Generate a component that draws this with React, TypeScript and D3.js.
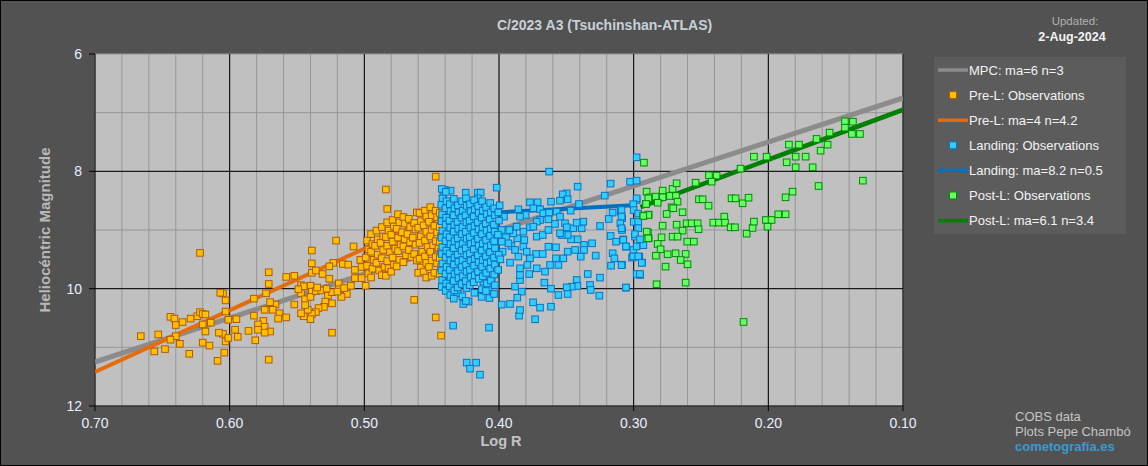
import React from "react";
import * as d3 from "d3";

const W = 1148;
const H = 466;
const M = { left: 95, right: 903, top: 54, bottom: 406 };

const xTickValues = [0.7, 0.6, 0.5, 0.4, 0.3, 0.2, 0.1];
const yTickValues = [6, 8, 10, 12];

const title = "C/2023 A3 (Tsuchinshan-ATLAS)";

// model lines [logR, magnitude]
const mpcLine: [number, number][] = [[0.70, 11.25], [0.10, 6.75]];
const preLine: [number, number][] = [[0.70, 11.42], [0.445, 8.74]];
const landLine: [number, number][] = [[0.443, 8.75], [0.300, 8.58]];
const postLine: [number, number][] = [[0.295, 8.61], [0.10, 6.95]];

// Pre-L observations: sparse part
const preSparse: [number, number][] = [
  [0.622, 9.39], [0.666, 10.81], [0.653, 10.78], [0.656, 11.07], [0.648, 11.03], [0.644, 10.48], [0.641, 10.51],
  [0.640, 10.62], [0.635, 10.57], [0.629, 10.51], [0.624, 10.47], [0.622, 10.40], [0.620, 10.43], [0.618, 10.44],
  [0.620, 10.61], [0.614, 10.58], [0.618, 10.73], [0.640, 10.81], [0.644, 10.87], [0.637, 10.94], [0.630, 11.11],
  [0.620, 10.92], [0.615, 10.97], [0.609, 11.23], [0.604, 11.09], [0.603, 10.90], [0.605, 10.77], [0.608, 10.75],
  [0.601, 10.84], [0.594, 10.82], [0.596, 10.70], [0.595, 10.52], [0.601, 10.53], [0.603, 10.39], [0.603, 10.20],
  [0.605, 10.08], [0.607, 10.07], [0.582, 10.17], [0.573, 10.08], [0.571, 9.72], [0.571, 9.92], [0.558, 9.80],
  [0.552, 9.78], [0.539, 9.35], [0.521, 9.18], [0.539, 9.57], [0.523, 9.56], [0.516, 9.58], [0.512, 9.59],
  [0.539, 9.73], [0.536, 9.69], [0.531, 9.75], [0.526, 9.62], [0.526, 9.83], [0.519, 9.91], [0.519, 10.01],
  [0.513, 10.09], [0.517, 10.14], [0.547, 9.94], [0.540, 9.95], [0.539, 10.05], [0.547, 10.08], [0.544, 10.18],
  [0.540, 10.14], [0.536, 10.04], [0.532, 10.03], [0.527, 10.12], [0.524, 10.06], [0.524, 10.25], [0.529, 10.22],
  [0.530, 10.31], [0.534, 10.33], [0.536, 10.40], [0.539, 10.43], [0.540, 10.52], [0.545, 10.47], [0.547, 10.42],
  [0.542, 10.36], [0.552, 10.27], [0.544, 10.28], [0.566, 10.27], [0.570, 10.23], [0.574, 10.36], [0.568, 10.36],
  [0.563, 10.42], [0.564, 10.51], [0.558, 10.49], [0.575, 10.55], [0.574, 10.65], [0.579, 10.61], [0.579, 10.70],
  [0.586, 10.72], [0.582, 10.46], [0.581, 10.88], [0.570, 10.73], [0.574, 10.75], [0.571, 11.21], [0.524, 10.75],
  [0.508, 9.28], [0.507, 9.68], [0.545, 9.96], [0.549, 10.01], [0.535, 9.98], [0.528, 10.00], [0.520, 10.05],
  [0.515, 9.99], [0.510, 9.95], [0.503, 9.51], [0.502, 9.63], [0.496, 9.51], [0.499, 9.95], [0.507, 9.82],
  [0.502, 9.82], [0.447, 8.09], [0.484, 8.31], [0.483, 8.64], [0.461, 8.70], [0.450, 8.80], [0.463, 10.19],
  [0.447, 10.49], [0.443, 10.80],
];

// Pre-L observations: dense part
const preDense: [number, number][] = [
  [0.498, 9.18], [0.497, 9.33], [0.499, 9.47], [0.498, 9.61], [0.497, 9.74],
  [0.495, 9.07], [0.494, 9.24], [0.495, 9.37], [0.493, 9.51], [0.494, 9.66], [0.495, 9.81],
  [0.491, 9.01], [0.490, 9.16], [0.492, 9.27], [0.490, 9.42], [0.491, 9.56], [0.489, 9.69],
  [0.487, 8.95], [0.486, 9.11], [0.488, 9.22], [0.486, 9.34], [0.487, 9.48], [0.485, 9.63], [0.487, 9.77],
  [0.483, 8.87], [0.482, 9.01], [0.484, 9.12], [0.483, 9.27], [0.481, 9.38], [0.483, 9.53], [0.482, 9.65], [0.484, 9.78],
  [0.479, 8.83], [0.478, 8.94], [0.480, 9.08], [0.479, 9.20], [0.477, 9.32], [0.479, 9.47], [0.478, 9.59], [0.480, 9.71],
  [0.475, 8.73], [0.474, 8.87], [0.476, 8.98], [0.475, 9.13], [0.473, 9.25], [0.475, 9.36], [0.474, 9.51], [0.476, 9.62],
  [0.471, 8.78], [0.470, 8.89], [0.472, 9.04], [0.470, 9.16], [0.471, 9.28], [0.469, 9.43], [0.471, 9.55],
  [0.467, 8.81], [0.466, 8.95], [0.468, 9.07], [0.466, 9.21], [0.467, 9.34], [0.465, 9.46],
  [0.463, 8.88], [0.462, 8.99], [0.464, 9.13], [0.462, 9.25], [0.463, 9.41], [0.461, 9.52],
  [0.459, 8.71], [0.458, 8.85], [0.460, 8.96], [0.458, 9.11], [0.459, 9.22], [0.457, 9.37], [0.459, 9.49], [0.458, 9.64], [0.460, 9.73],
  [0.455, 8.67], [0.454, 8.77], [0.456, 8.92], [0.454, 9.03], [0.455, 9.18], [0.453, 9.29], [0.455, 9.45], [0.454, 9.56], [0.456, 9.71], [0.454, 9.81],
  [0.451, 8.61], [0.450, 8.75], [0.452, 8.86], [0.450, 9.00], [0.451, 9.11], [0.449, 9.26], [0.451, 9.37], [0.450, 9.52], [0.452, 9.63], [0.450, 9.78],
  [0.447, 8.67], [0.446, 8.78], [0.448, 8.93], [0.446, 9.04], [0.447, 9.19], [0.445, 9.30], [0.447, 9.46], [0.446, 9.57], [0.448, 9.73],
  [0.444, 8.71], [0.443, 8.84], [0.444, 8.95], [0.443, 9.10], [0.444, 9.21], [0.443, 9.37], [0.444, 9.48], [0.443, 9.63], [0.444, 9.75],
];

// Landing observations: dense part
const landDense: [number, number][] = [
  [0.4425, 8.30], [0.4420, 8.46], [0.4428, 8.57], [0.4422, 8.73], [0.4426, 8.85], [0.4420, 9.01], [0.4427, 9.13], [0.4421, 9.29], [0.4425, 9.41], [0.4420, 9.57], [0.4427, 9.69], [0.4422, 9.85], [0.4425, 9.97],
  [0.4395, 8.35], [0.4390, 8.51], [0.4398, 8.63], [0.4392, 8.79], [0.4396, 8.91], [0.4390, 9.07], [0.4397, 9.19], [0.4391, 9.35], [0.4395, 9.47], [0.4390, 9.63], [0.4397, 9.75], [0.4392, 9.91], [0.4396, 10.04],
  [0.4365, 8.56], [0.4360, 8.68], [0.4368, 8.84], [0.4362, 8.96], [0.4366, 9.12], [0.4360, 9.24], [0.4367, 9.40], [0.4361, 9.52], [0.4365, 9.68], [0.4360, 9.80], [0.4367, 9.96], [0.4362, 10.11],
  [0.4335, 8.47], [0.4330, 8.63], [0.4338, 8.75], [0.4332, 8.91], [0.4336, 9.03], [0.4330, 9.19], [0.4337, 9.31], [0.4331, 9.47], [0.4335, 9.59], [0.4330, 9.75], [0.4337, 9.87], [0.4332, 10.03], [0.4336, 10.17],
  [0.4305, 8.58], [0.4300, 8.70], [0.4308, 8.86], [0.4302, 8.98], [0.4306, 9.14], [0.4300, 9.26], [0.4307, 9.42], [0.4301, 9.54], [0.4305, 9.70], [0.4300, 9.82], [0.4307, 9.98],
  [0.4275, 8.51], [0.4270, 8.67], [0.4278, 8.79], [0.4272, 8.95], [0.4276, 9.07], [0.4270, 9.23], [0.4277, 9.35], [0.4271, 9.51], [0.4275, 9.63], [0.4270, 9.79], [0.4277, 9.92], [0.4272, 10.13],
  [0.4245, 8.46], [0.4240, 8.59], [0.4248, 8.75], [0.4242, 8.87], [0.4246, 9.03], [0.4240, 9.15], [0.4247, 9.31], [0.4241, 9.43], [0.4245, 9.59], [0.4240, 9.71], [0.4247, 9.87], [0.4242, 9.99], [0.4246, 10.21],
  [0.4215, 8.56], [0.4210, 8.68], [0.4218, 8.84], [0.4212, 8.96], [0.4216, 9.12], [0.4210, 9.24], [0.4217, 9.40], [0.4211, 9.52], [0.4215, 9.68], [0.4210, 9.80], [0.4217, 9.94],
  [0.4185, 8.49], [0.4180, 8.65], [0.4188, 8.77], [0.4182, 8.93], [0.4186, 9.05], [0.4180, 9.21], [0.4187, 9.33], [0.4181, 9.49], [0.4185, 9.61], [0.4180, 9.77], [0.4187, 9.89], [0.4182, 10.07],
  [0.4155, 8.59], [0.4150, 8.71], [0.4158, 8.87], [0.4152, 8.99], [0.4156, 9.15], [0.4150, 9.27], [0.4157, 9.43], [0.4151, 9.55], [0.4155, 9.71], [0.4150, 9.83],
  [0.4125, 8.51], [0.4120, 8.67], [0.4128, 8.79], [0.4122, 8.95], [0.4126, 9.07], [0.4120, 9.23], [0.4127, 9.35], [0.4121, 9.51], [0.4125, 9.63], [0.4120, 9.79], [0.4127, 10.01],
  [0.4095, 8.61], [0.4090, 8.73], [0.4098, 8.89], [0.4092, 9.01], [0.4096, 9.17], [0.4090, 9.29], [0.4097, 9.45], [0.4091, 9.57], [0.4095, 9.73], [0.4090, 9.91], [0.4097, 10.04],
  [0.4065, 8.54], [0.4060, 8.70], [0.4068, 8.82], [0.4062, 8.98], [0.4066, 9.10], [0.4060, 9.26], [0.4067, 9.38], [0.4061, 9.54], [0.4065, 9.66], [0.4060, 9.86],
  [0.4035, 8.63], [0.4030, 8.75], [0.4038, 8.91], [0.4032, 9.03], [0.4036, 9.19], [0.4030, 9.31], [0.4037, 9.47], [0.4031, 9.59], [0.4035, 9.76], [0.4030, 9.94], [0.4037, 10.09],
  [0.4005, 8.70], [0.4000, 8.84], [0.4008, 9.08], [0.4002, 9.42], [0.4006, 9.68], [0.3995, 8.58], [0.3990, 9.50],
];

// Landing observations: scattered part
const landSparse: [number, number][] = [
  [0.3156, 8.704], [0.3096, 8.687], [0.3185, 8.812], [0.3086, 8.801], [0.3099, 8.886], [0.3086, 9.000], [0.3250, 8.931],
  [0.3171, 9.102], [0.3131, 9.199], [0.3057, 9.284], [0.3077, 9.159], [0.3156, 9.397], [0.3143, 9.483], [0.3168, 9.608],
  [0.3086, 9.591], [0.3012, 9.471], [0.2958, 9.454], [0.2938, 9.556], [0.2953, 9.767], [0.3057, 9.983], [0.3255, 10.119],
  [0.3250, 9.812], [0.3324, 9.937], [0.3319, 10.022], [0.3341, 9.750], [0.3423, 9.852], [0.3418, 9.954], [0.3460, 9.966],
  [0.3497, 9.977], [0.3490, 10.091], [0.3559, 10.108], [0.3614, 10.000], [0.3614, 10.307], [0.3695, 10.324], [0.3747, 10.233],
  [0.3732, 10.522], [0.3851, 10.460], [0.3844, 10.363], [0.3918, 10.261], [0.3980, 10.272], [0.4074, 10.664], [0.4341, 10.630],
  [0.4240, 11.261], [0.4170, 11.261], [0.4215, 11.363], [0.4141, 11.466], [0.3831, 10.051], [0.3881, 9.966], [0.3864, 10.153],
  [0.3844, 9.852], [0.3844, 9.767], [0.3844, 9.653], [0.3775, 9.750], [0.3720, 9.653], [0.3658, 9.710], [0.3663, 9.897],
  [0.3621, 9.596], [0.3559, 9.596], [0.3577, 9.483], [0.3522, 9.483], [0.3490, 9.369], [0.3435, 9.340], [0.3369, 9.255],
  [0.3369, 9.340], [0.3309, 9.227], [0.3282, 9.437], [0.3393, 9.454], [0.3416, 9.159], [0.3465, 9.159], [0.3490, 9.085],
  [0.3534, 9.085], [0.3577, 9.295], [0.3633, 9.284], [0.3675, 9.409], [0.3725, 9.409], [0.3770, 9.483], [0.3789, 9.596],
  [0.3918, 9.556], [0.3973, 9.369], [0.3908, 9.272], [0.3864, 9.142], [0.3819, 9.028], [0.3770, 8.954], [0.3720, 9.113],
  [0.3675, 9.085], [0.3633, 8.999], [0.3584, 8.897], [0.3510, 8.886], [0.3448, 8.971], [0.3386, 8.971], [0.3374, 8.858],
  [0.3423, 8.875], [0.3497, 8.954], [0.3547, 9.056], [0.3628, 8.005], [0.3770, 8.528], [0.3713, 8.528], [0.3745, 8.630],
  [0.3695, 8.647], [0.3671, 8.716], [0.3856, 8.647], [0.3802, 8.744], [0.3844, 8.772], [0.3963, 8.772], [0.3628, 8.704],
  [0.3572, 8.687], [0.3547, 8.772], [0.3633, 8.818], [0.3695, 8.829], [0.3720, 8.858], [0.3745, 8.943], [0.3416, 8.261],
  [0.3171, 8.210], [0.3027, 8.176], [0.2978, 8.159], [0.2978, 7.761], [0.3215, 8.414], [0.2978, 8.488], [0.3497, 8.375],
  [0.3527, 8.392], [0.3490, 8.477], [0.3547, 8.500], [0.3614, 8.517], [0.3406, 8.557], [0.3468, 8.670], [0.4017, 8.278],
  [0.4247, 8.363], [0.4158, 8.363], [0.4136, 8.363], [0.4158, 8.460], [0.4403, 8.318], [0.4359, 8.329], [0.4413, 8.420],
  [0.2990, 9.113], [0.2948, 9.255], [0.3002, 9.340], [0.2978, 8.460], [0.3003, 8.560], [0.3090, 8.660], [0.3090, 8.770],
  [0.3090, 8.970], [0.3000, 8.660], [0.2966, 8.720], [0.3000, 8.860], [0.2966, 8.860], [0.2966, 8.970], [0.2990, 9.070],
  [0.3077, 9.170], [0.3057, 9.280], [0.2978, 9.280], [0.2928, 9.260], [0.2953, 9.160], [0.3003, 9.450], [0.2966, 9.450],
  [0.2940, 9.560], [0.3090, 9.600], [0.2978, 9.750], [0.2953, 9.750], [0.3057, 9.980], [0.3948, 9.125], [0.3893, 9.057],
  [0.3930, 9.227], [0.3881, 9.340], [0.3819, 9.284], [0.3856, 9.454], [0.3794, 9.369], [0.3923, 9.000], [0.3869, 8.943],
  [0.3812, 9.170], [0.3980, 8.999], [0.3980, 9.199], [0.4116, 9.880], [0.4054, 9.850], [0.4079, 10.020], [0.4129, 10.140],
  [0.4071, 10.160], [0.4227, 10.220], [0.4265, 10.260], [0.4307, 10.080], [0.4351, 9.940], [0.4364, 9.820],
];

// Post-L observations
const postObs: [number, number][] = [
  [0.2924, 7.852], [0.2904, 8.346], [0.2879, 8.443], [0.2837, 8.431], [0.2785, 8.329], [0.2785, 8.443], [0.2822, 8.534],
  [0.2909, 8.556], [0.2711, 8.300], [0.2681, 8.204], [0.2731, 8.420], [0.2686, 8.420], [0.2674, 8.517], [0.2718, 8.613],
  [0.2706, 8.630], [0.2637, 8.698], [0.2755, 8.727], [0.2929, 8.755], [0.2889, 8.738], [0.2785, 8.926], [0.2681, 8.909],
  [0.2607, 8.886], [0.2570, 8.886], [0.2525, 8.886], [0.2637, 9.011], [0.2518, 8.988], [0.2894, 9.045], [0.2889, 9.142],
  [0.2793, 9.125], [0.2711, 9.113], [0.2674, 9.113], [0.2602, 9.198], [0.2553, 9.198], [0.2822, 9.238], [0.2800, 9.329],
  [0.2835, 9.437], [0.2748, 9.414], [0.2689, 9.397], [0.2614, 9.408], [0.2651, 9.511], [0.2600, 9.585], [0.2763, 9.624],
  [0.2830, 9.925], [0.2614, 9.897], [0.2540, 8.193], [0.2441, 8.068], [0.2384, 8.073], [0.2421, 8.176], [0.2515, 8.477],
  [0.2488, 8.477], [0.2444, 8.585], [0.2273, 8.460], [0.2243, 8.460], [0.2191, 8.545], [0.2147, 8.449], [0.2409, 8.874],
  [0.2367, 8.874], [0.2327, 8.772], [0.2322, 8.874], [0.2280, 8.954], [0.2248, 8.954], [0.2161, 9.062], [0.2117, 8.965],
  [0.2107, 8.857], [0.2018, 8.829], [0.1976, 8.829], [0.2006, 8.943], [0.1926, 8.732], [0.1872, 8.732], [0.1872, 8.443],
  [0.1820, 8.346], [0.2206, 7.954], [0.2107, 7.750], [0.2013, 7.750], [0.1864, 7.846], [0.1797, 7.750], [0.1797, 7.931],
  [0.1723, 7.750], [0.1671, 7.931], [0.1847, 7.545], [0.1773, 7.545], [0.1642, 7.448], [0.1612, 7.647], [0.1560, 7.545],
  [0.1545, 7.340], [0.1431, 7.147], [0.1372, 7.153], [0.1431, 7.255], [0.1379, 7.363], [0.1320, 7.363], [0.1627, 8.250],
  [0.1298, 8.159], [0.2184, 10.568], [0.2891, 8.460], [0.2908, 8.556], [0.2891, 8.744], [0.2928, 8.761], [0.2903, 9.028],
  [0.2891, 9.142],
];

const legendItems = [
  { label: "MPC: ma=6 n=3", kind: "line", color: "#8c8c8c" },
  { label: "Pre-L: Observations", kind: "mark", fill: "#ffc000", stroke: "#b35a00" },
  { label: "Pre-L: ma=4 n=4.2", kind: "line", color: "#e46c0a" },
  { label: "Landing: Observations", kind: "mark", fill: "#33ccff", stroke: "#0a72c4" },
  { label: "Landing: ma=8.2 n=0.5", kind: "line", color: "#0070c0" },
  { label: "Post-L: Observations", kind: "mark", fill: "#66ff66", stroke: "#008a00" },
  { label: "Post-L: ma=6.1 n=3.4", kind: "line", color: "#008000" },
];

const FONT = "'Liberation Sans', Arial, Helvetica, sans-serif";

export default function App() {
  const x = d3.scaleLinear().domain([0.7, 0.1]).range([M.left, M.right]);
  const y = d3.scaleLinear().domain([6, 12]).range([M.top, M.bottom]);
  const line = d3.line<[number, number]>().x((d) => x(d[0])).y((d) => y(d[1]));

  const minorX = d3.range(0, 31).map((i) => 0.7 - i * 0.02);
  const minorY = d3.range(6, 13, 1);
  const fmt = d3.format(".2f");
  const S = 6.6;

  const squares = (pts: [number, number][], fill: string, stroke: string, key: string) =>
    pts.map((d, i) => (
      <rect
        key={key + i}
        x={x(d[0]) - S / 2}
        y={y(d[1]) - S / 2}
        width={S}
        height={S}
        fill={fill}
        stroke={stroke}
        strokeWidth={1}
      />
    ));

  return (
    <svg
      width={W}
      height={H}
      style={{ position: "absolute", left: 0, top: 0, fontFamily: FONT }}
    >
      <rect x={0} y={0} width={W} height={H} fill="#525252" />
      <rect x={0.5} y={0.5} width={W - 1} height={H - 1} fill="none" stroke="#000" />

      <defs>
        <clipPath id="plotclip">
          <rect x={M.left} y={M.top} width={M.right - M.left} height={M.bottom - M.top} />
        </clipPath>
      </defs>

      {/* plot area */}
      <rect x={M.left} y={M.top} width={M.right - M.left} height={M.bottom - M.top} fill="#c0c0c0" />
      {minorX.map((v, i) => (
        <line key={"mx" + i} x1={x(v)} x2={x(v)} y1={M.top} y2={M.bottom} stroke="#969696" strokeWidth={1} />
      ))}
      {minorY.map((v, i) => (
        <line key={"my" + i} x1={M.left} x2={M.right} y1={y(v)} y2={y(v)} stroke="#969696" strokeWidth={1} />
      ))}
      {xTickValues.map((v, i) => (
        <line key={"Mx" + i} x1={x(v)} x2={x(v)} y1={M.top} y2={M.bottom + 5} stroke="#000" strokeWidth={1} />
      ))}
      {yTickValues.filter((v) => v !== 6).map((v, i) => (
        <line key={"My" + i} x1={M.left} x2={M.right} y1={y(v)} y2={y(v)} stroke="#000" strokeWidth={1} />
      ))}
      {yTickValues.map((v, i) => (
        <line key={"yt" + i} x1={M.left - 6} x2={M.left} y1={y(v)} y2={y(v)} stroke="#000" strokeWidth={1} />
      ))}

      {/* model lines */}
      <g clipPath="url(#plotclip)" fill="none">
        <path d={line(mpcLine) || ""} stroke="#8c8c8c" strokeWidth={5} />
        <path d={line(preLine) || ""} stroke="#e46c0a" strokeWidth={4} />
        <path d={line(landLine) || ""} stroke="#0070c0" strokeWidth={4} />
        <path d={line(postLine) || ""} stroke="#008000" strokeWidth={4.5} />
      </g>

      {/* observations */}
      <g clipPath="url(#plotclip)">
        {squares(preSparse, "#ffc000", "#b35a00", "ps")}
        {squares(preDense, "#ffc000", "#b35a00", "pd")}
        {squares(landSparse, "#33ccff", "#0a72c4", "ls")}
        {squares(landDense, "#33ccff", "#0a72c4", "ld")}
        {squares(postObs, "#66ff66", "#008a00", "po")}
      </g>

      {/* axes labels */}
      {yTickValues.map((v, i) => (
        <text key={"yl" + i} x={82} y={y(v) + 5} textAnchor="end" fontSize={14} fill="#e8eeff">
          {v}
        </text>
      ))}
      {xTickValues.map((v, i) => (
        <text key={"xl" + i} x={x(v)} y={428} textAnchor="middle" fontSize={14} fill="#e8eeff">
          {fmt(v)}
        </text>
      ))}
      <text x={501} y={446} textAnchor="middle" fontSize={14.5} fontWeight="bold" fill="#c4c4c4">
        Log R
      </text>
      <text
        transform={`translate(50,230) rotate(-90)`}
        textAnchor="middle"
        fontSize={15}
        fontWeight="bold"
        fill="#b8b8b8"
      >
        Heliocéntric Magnitude
      </text>

      {/* title */}
      <text x={497} y={30} fontSize={14} fontWeight="bold" fill="#c8d0d8">
        {title}
      </text>
      <text x={1075} y={25} textAnchor="middle" fontSize={11.5} fill="#b0b0b0">
        Updated:
      </text>
      <text x={1072} y={41} textAnchor="middle" fontSize={12.5} fontWeight="bold" fill="#f2f2f2">
        2-Aug-2024
      </text>

      {/* legend */}
      <rect x={934} y={57} width={192} height={177} fill="#5c5c5c" />
      {legendItems.map((it, i) => {
        const cy = 70 + i * 25.1;
        return (
          <g key={"lg" + i}>
            {it.kind === "line" ? (
              <line x1={938} x2={968} y1={cy} y2={cy} stroke={it.color} strokeWidth={3.5} />
            ) : (
              <rect x={949.5} y={cy - 3.5} width={7} height={7} fill={it.fill} stroke={it.stroke} />
            )}
            <text x={969} y={cy + 4.5} fontSize={13} fill="#f2f2f2">
              {it.label}
            </text>
          </g>
        );
      })}

      {/* credits */}
      <text x={1015} y={421} fontSize={13} fill="#c4c4c4">COBS data</text>
      <text x={1015} y={436} fontSize={13} fill="#c4c4c4">Plots Pepe Chambó</text>
      <text x={1015} y={451} fontSize={13} fontWeight="bold" fill="#3a9ad0">cometografía.es</text>
    </svg>
  );
}
